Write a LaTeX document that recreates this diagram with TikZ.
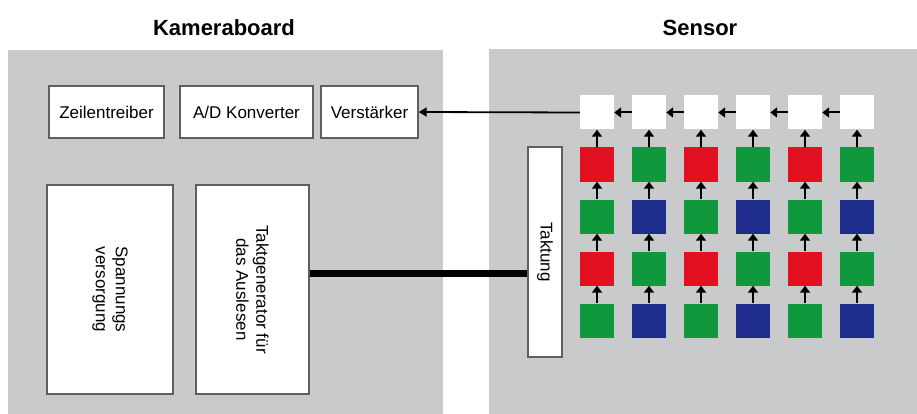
\documentclass[tikz,border=0pt]{standalone}
\usepackage{fontspec}
\setmainfont{Liberation Sans}
\usetikzlibrary{arrows.meta,calc}
\definecolor{panel}{RGB}{201,202,204}
\definecolor{pxred}{RGB}{226,16,32}
\definecolor{pxgreen}{RGB}{16,153,60}
\definecolor{pxblue}{RGB}{30,44,140}
\definecolor{frame}{RGB}{95,95,95}
\begin{document}
\begin{tikzpicture}[x=1pt,y=-1pt,
  box/.style={draw=frame,line width=1.3pt,fill=white,inner sep=0pt,
    font=\fontsize{17}{20}\selectfont},
  ttl/.style={font=\fontsize{22}{26}\selectfont\bfseries},
  pix/.style={minimum width=34pt,minimum height=34pt,inner sep=0pt,draw=none},
  vlabel/.style={rotate=-90,align=center,inner sep=0pt,font=\fontsize{17}{20}\selectfont},
  arr/.style={line width=2pt,-{Triangle[width=10pt,length=7pt]}},
  thinarr/.style={line width=1.8pt,-{Triangle[width=9pt,length=8pt]}}]
\fill[white] (0,0) rectangle (917,414);
\useasboundingbox (0,0) rectangle (917,414);
% panels
\fill[panel] (8,50) rectangle (443,414);
\fill[panel] (489,49) rectangle (917,414);
\node[ttl] (tkam) at (224,28) {Kameraboard};
\node[ttl] (tsen) at (700,28) {Sensor};
% camera board boxes
\node[box,minimum width=115pt,minimum height=52pt] (zt) at (106.5,112) {Zeilentreiber};
\node[box,minimum width=133pt,minimum height=52pt] (ad) at (246.5,112) {A/D Konverter};
\node[box,minimum width=97pt,minimum height=52pt] (vs) at (369.5,112) {Verstärker};
\node[box,minimum width=126pt,minimum height=209pt] (sp) at (110,289.5) {};
\node[vlabel] (spl) at (sp.center) {Spannungs\\versorgung};
\node[box,minimum width=113pt,minimum height=209pt] (tg) at (252.5,289.5) {};
\node[vlabel] (tgl) at (tg.center) {Taktgenerator für\\das Auslesen};
% sensor
\node[box,minimum width=34pt,minimum height=210pt] (tk) at (545,252) {};
\node[vlabel] (tkl) at (tk.center) {Taktung};
\foreach \c/\x in {1/597,2/649,3/701,4/753,5/805,6/857}{
  \node[pix,fill=white] (p\c0) at (\x,112.5) {};
}
\foreach \c/\x/\ca/\cb in {1/597/pxred/pxgreen,2/649/pxgreen/pxblue,3/701/pxred/pxgreen,4/753/pxgreen/pxblue,5/805/pxred/pxgreen,6/857/pxgreen/pxblue}{
  \node[pix,fill=\ca] (p\c1) at (\x,164.5) {};
  \node[pix,fill=\cb] (p\c2) at (\x,216.5) {};
  \node[pix,fill=\ca] (p\c3) at (\x,268.5) {};
  \node[pix,fill=\cb] (p\c4) at (\x,320.5) {};
}
\foreach \c in {1,...,6}{
  \foreach \r/\q in {1/0,2/1,3/2,4/3}{
    \draw[arr] (p\c\r.north) -- (p\c\q.south);
  }
}
\foreach \c/\d in {2/1,3/2,4/3,5/4,6/5}{
  \draw[arr] (p\c0.west) -- (p\d0.east);
}
\draw[thinarr] (p10.west) -- (vs.east);
\draw[line width=7pt] ([yshift=16.5pt]tg.east) -- ([yshift=16.5pt]tg.east -| tk.west);
\end{tikzpicture}
\end{document}
